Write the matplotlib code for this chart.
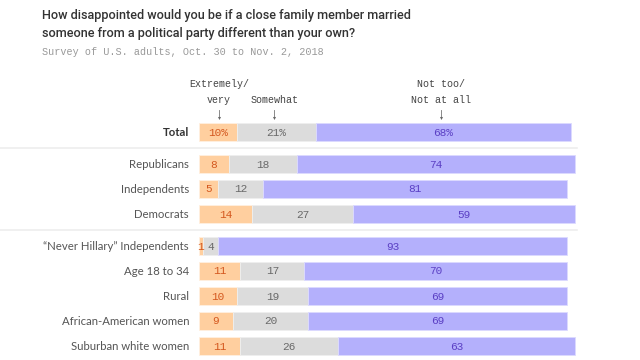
import matplotlib.pyplot as plt
import numpy as np

# Data
groups = ["Total", "Republicans", "Independents", "Democrats",
          "\u201cNever Hillary\u201d Independents", "Age 18 to 34", "Rural",
          "African-American women", "Suburban white women"]
very = [10, 8, 5, 14, 1, 11, 10, 9, 11]
somewhat = [21, 18, 12, 27, 4, 17, 19, 20, 26]
not_at_all = [68, 74, 81, 59, 93, 70, 69, 69, 63]
section = [0, 1, 1, 1, 2, 2, 2, 2, 2]

c_orange, c_gray, c_purple = "#ffcf9f", "#dcdcdc", "#b4b0fc"
t_orange, t_gray, t_purple = "#d4581f", "#6a6a6a", "#5b40c4"

# layout in pixels: 100% = 376 px, bars start at x=199
ppp = 3.76
x0 = 199
ys = np.array([132 + 25 * i + 7 * s for i, s in enumerate(section)])

fig = plt.figure(figsize=(6.4, 3.6), dpi=100)
ax = fig.add_axes([0, 0, 1, 1])
ax.set_xlim(-x0 / ppp, (640 - x0) / ppp)
ax.set_ylim(360, 0)
ax.axis("off")

v = np.array(very)
s = np.array(somewhat)
n = np.array(not_at_all)
h = 18
ax.barh(ys, v, height=h, color=c_orange, edgecolor="#fff0e0", lw=0.6)
ax.barh(ys, s, left=v, height=h, color=c_gray, edgecolor="#efefef", lw=0.6)
ax.barh(ys, n, left=v + s, height=h, color=c_purple, edgecolor="#dcdaff", lw=0.6)

mono = "Liberation Mono"
for i, y in enumerate(ys):
    suf = "%" if i == 0 else ""
    ax.text(v[i] / 2, y + 0.5, f"{v[i]}{suf}", ha="center", va="center",
            color=t_orange, fontsize=8, family=mono)
    ax.text(v[i] + s[i] / 2, y + 0.5, f"{s[i]}{suf}", ha="center", va="center",
            color=t_gray, fontsize=8, family=mono)
    ax.text(v[i] + s[i] + n[i] / 2, y + 0.5, f"{n[i]}{suf}", ha="center",
            va="center", color=t_purple, fontsize=8, family=mono)
    ax.text(-10 / ppp, y + 0.5, groups[i], ha="right", va="center",
            color="#333333" if i == 0 else "#555555", fontsize=8.2,
            family="Lato", fontweight="bold" if i == 0 else "normal")

# separators between sections
for sy in [147.5, 229.5]:
    ax.plot([-x0 / ppp, (577 - x0) / ppp], [sy, sy], color="#eeeeee", lw=1.2)

# column headers with arrows
heads = [("Extremely/\nvery", very[0] / 2 + 0.3),
         ("Somewhat", very[0] + somewhat[0] / 2 - 0.5),
         ("Not too/\nNot at all", very[0] + somewhat[0] + not_at_all[0] / 2 - 0.7)]
for txt, xc in heads:
    ax.text(xc, 105, txt, ha="center", va="bottom", fontsize=7.2,
            family=mono, color="#444444", linespacing=1.7)
    ax.plot([xc, xc], [110, 117], color="#777777", lw=0.6)
    ax.plot([xc], [117.5], marker="v", ms=2.2, color="#666666", mew=0)

title_kw = dict(ha="left", va="center", fontsize=9.1, family="Roboto",
                fontweight="medium", color="#333333")
fig.text(42 / 640, 1 - 15 / 360,
         "How disappointed would you be if a close family member married", **title_kw)
fig.text(42 / 640, 1 - 33 / 360,
         "someone from a political party different than your own?", **title_kw)
fig.text(42 / 640, 1 - 52 / 360, "Survey of U.S. adults, Oct. 30 to Nov. 2, 2018",
         ha="left", va="center", fontsize=7.3, family=mono, color="#999999")

plt.savefig("out.png", dpi=100)
